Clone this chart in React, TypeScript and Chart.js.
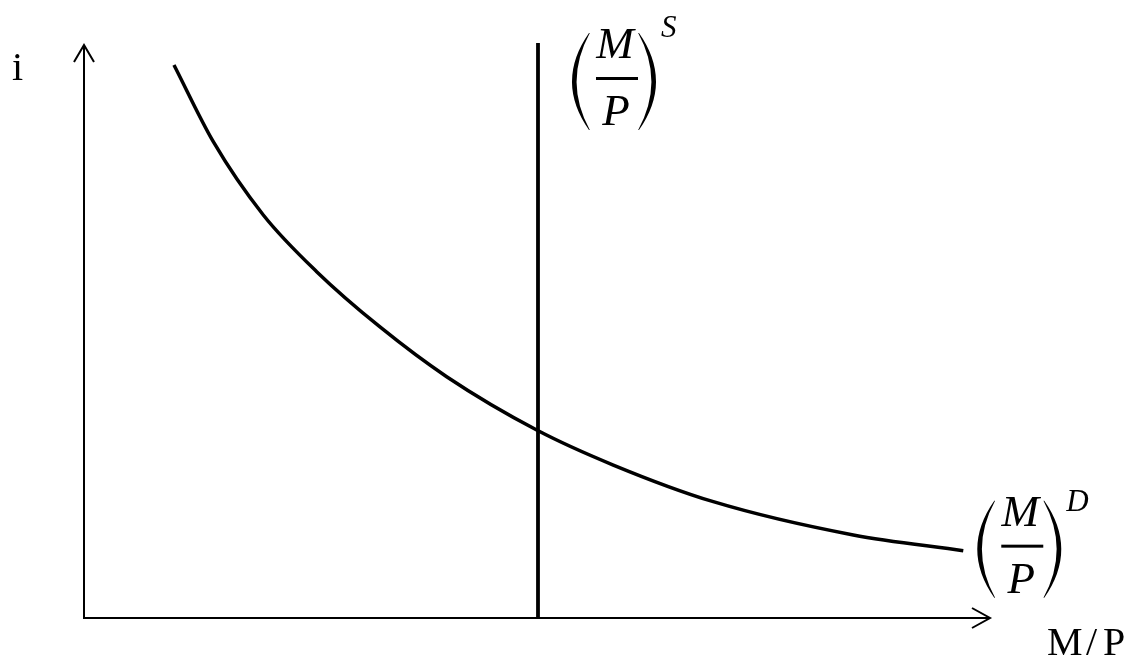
import React, { useEffect, useRef } from "react";
import { Chart, registerables } from "chart.js";

Chart.register(...registerables);

// Money demand curve (M/P)^D : x = real money balances, y = interest rate i
const demandX = [9.93, 14.27, 19.79, 25.68, 32.67, 40.03, 49.97, 58.42, 69.46, 84.91, 97.05];
const demandY = [96.51, 83.12, 70.33, 60.44, 50.79, 42.11, 32.81, 26.7, 20.3, 14.49, 11.75];

// Money supply (M/P)^S : vertical line
const supplyX = [50.11, 50.11];
const supplyY = [0, 100.35];

const yAxisLabel = "i";
const xAxisLabel = ["M", "/", "P"];
const supplyLabel = { num: "M", den: "P", sup: "S" };
const demandLabel = { num: "M", den: "P", sup: "D" };

const MATH_FONT = "italic 45px 'Liberation Serif', 'Times New Roman', serif";
const SUP_FONT = "italic 31px 'Liberation Serif', 'Times New Roman', serif";
const TEXT_FONT = "40px 'Liberation Serif', 'Times New Roman', serif";

function drawParen(ctx: CanvasRenderingContext2D, xEdge: number, top: number, h: number, left: boolean) {
  const w = 17;
  const th = 4.2;
  ctx.beginPath();
  if (left) {
    const endX = xEdge + w;
    ctx.moveTo(endX, top);
    ctx.quadraticCurveTo(xEdge - w, top + h / 2, endX, top + h);
    ctx.lineTo(endX + 0.8, top + h);
    ctx.quadraticCurveTo(xEdge - w + 2 * th, top + h / 2, endX + 0.8, top);
  } else {
    const endX = xEdge - w;
    ctx.moveTo(endX, top);
    ctx.quadraticCurveTo(xEdge + w, top + h / 2, endX, top + h);
    ctx.lineTo(endX - 0.8, top + h);
    ctx.quadraticCurveTo(xEdge + w - 2 * th, top + h / 2, endX - 0.8, top);
  }
  ctx.closePath();
  ctx.fill();
}

function drawFracLabel(
  ctx: CanvasRenderingContext2D,
  x0: number,
  top: number,
  lab: { num: string; den: string; sup: string },
  supBaseline: number
) {
  ctx.save();
  ctx.fillStyle = "#000";
  drawParen(ctx, x0, top, 97, true);
  drawParen(ctx, x0 + 84, top, 97, false);
  ctx.font = MATH_FONT;
  ctx.textAlign = "center";
  ctx.textBaseline = "alphabetic";
  ctx.fillText(lab.num, x0 + 43, top + 25);
  ctx.fillText(lab.den, x0 + 44, top + 92);
  ctx.fillRect(x0 + 24, top + 44, 42, 3);
  ctx.font = SUP_FONT;
  ctx.textAlign = "left";
  ctx.fillText(lab.sup, x0 + 89, top + supBaseline);
  ctx.restore();
}

const axesPlugin = {
  id: "econAxes",
  afterDatasetsDraw(chart: any) {
    const ctx: CanvasRenderingContext2D = chart.ctx;
    const xs = chart.scales.x;
    const ys = chart.scales.y;
    const ox = xs.getPixelForValue(0);
    const oy = ys.getPixelForValue(0);
    const xEnd = xs.getPixelForValue(100);
    const yEnd = ys.getPixelForValue(100);
    ctx.save();
    ctx.strokeStyle = "#000";
    ctx.lineWidth = 2;
    ctx.lineCap = "butt";
    // axes
    ctx.beginPath();
    ctx.moveTo(ox, yEnd);
    ctx.lineTo(ox, oy);
    ctx.lineTo(xEnd, oy);
    ctx.stroke();
    // arrowheads
    ctx.beginPath();
    ctx.moveTo(ox - 10, yEnd + 17);
    ctx.lineTo(ox, yEnd);
    ctx.lineTo(ox + 10, yEnd + 17);
    ctx.stroke();
    ctx.beginPath();
    ctx.moveTo(xEnd - 18, oy - 10);
    ctx.lineTo(xEnd, oy);
    ctx.lineTo(xEnd - 18, oy + 10);
    ctx.stroke();

    // axis labels
    ctx.fillStyle = "#000";
    ctx.font = TEXT_FONT;
    ctx.textAlign = "left";
    ctx.textBaseline = "alphabetic";
    ctx.fillText(yAxisLabel, ox - 72, yEnd + 35);
    const mx = xEnd + 57;
    const by = oy + 37;
    ctx.fillText(xAxisLabel[0], mx, by);
    ctx.fillText(xAxisLabel[1], mx + 39, by);
    ctx.fillText(xAxisLabel[2], mx + 56, by);

    // curve labels
    const sx = xs.getPixelForValue(supplyX[0]);
    drawFracLabel(ctx, sx + 34, yEnd - 12, supplyLabel, 4);
    const dEndX = xs.getPixelForValue(demandX[demandX.length - 1]);
    const dEndY = ys.getPixelForValue(demandY[demandY.length - 1]);
    drawFracLabel(ctx, dEndX + 14, dEndY - 50, demandLabel, 10);
    ctx.restore();
  },
};

export default function App() {
  const ref = useRef<HTMLCanvasElement | null>(null);
  useEffect(() => {
    if (!ref.current) return;
    const chart = new Chart(ref.current, {
      type: "line",
      data: {
        datasets: [
          {
            label: "(M/P)^D",
            data: demandX.map((x, i) => ({ x, y: demandY[i] })),
            borderColor: "#000",
            borderWidth: 3.5,
            pointRadius: 0,
            fill: false,
            cubicInterpolationMode: "monotone",
            clip: false as any,
          },
          {
            label: "(M/P)^S",
            data: supplyX.map((x, i) => ({ x, y: supplyY[i] })),
            borderColor: "#000",
            borderWidth: 3.8,
            pointRadius: 0,
            fill: false,
            clip: false as any,
          },
        ],
      },
      options: {
        responsive: false,
        animation: false,
        events: [],
        layout: { padding: { left: 84, right: 144, top: 45, bottom: 40 } },
        plugins: {
          legend: { display: false },
          tooltip: { enabled: false },
          title: { display: false },
        },
        scales: {
          x: { type: "linear", min: 0, max: 100, display: false },
          y: { type: "linear", min: 0, max: 100, display: false },
        },
      },
      plugins: [axesPlugin],
    });
    return () => chart.destroy();
  }, []);
  return (
    <div style={{ position: "absolute", left: 0, top: 0, width: 1134, height: 658, background: "#fff" }}>
      <canvas ref={ref} width={1134} height={658} style={{ display: "block" }} />
    </div>
  );
}
